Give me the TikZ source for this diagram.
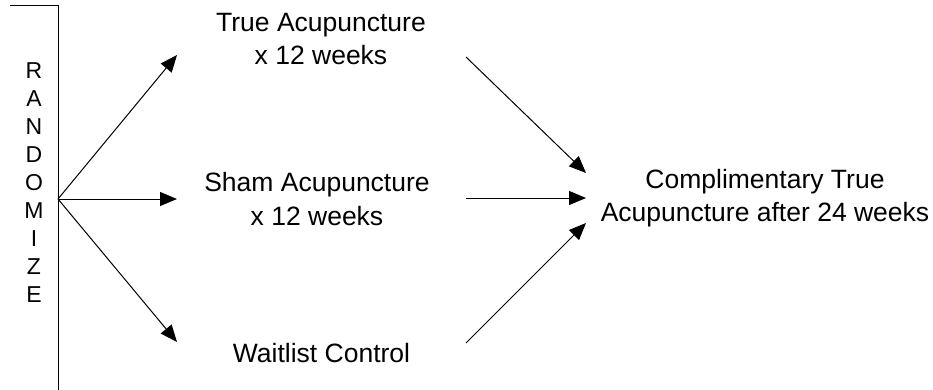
\documentclass[tikz,border=0pt]{standalone}
\usepackage{fontspec}
\setmainfont{Liberation Sans}
\usetikzlibrary{arrows.meta}

\begin{document}
\begin{tikzpicture}[x=1pt,y=-1pt,line width=1pt,
  arm/.style={-{Triangle[length=17pt,width=14pt]}},
  lbl/.style={font=\fontsize{26.5}{33.5}\selectfont,align=center,inner sep=0pt},
  vert/.style={font=\fontsize{23}{28.1}\selectfont,align=center,inner sep=0pt}]
\useasboundingbox (0,0) rectangle (933,390);
% bracket and label
\draw (10,6) -- (58,6) -- (58,390);
\node[vert] (rand) at (34,182.5) {R\\A\\N\\D\\O\\M\\I\\Z\\E};
\coordinate (hub) at (58,199);
% arms
\node[lbl] (ta) at (321,39) {True Acupuncture\\x 12 weeks};
\node[lbl] (sa) at (317,199) {Sham Acupuncture\\x 12 weeks};
\node[lbl] (wl) at (321.5,353.5) {Waitlist Control};
\node[lbl] (ct) at (765,198) {Complimentary True\\Acupuncture after 24 weeks};
\coordinate (taIn) at (177,55);
\coordinate (saIn) at (177,199);
\coordinate (wlIn) at (177,342);
\coordinate (taOut) at (466,57);
\coordinate (saOut) at (466,198);
\coordinate (wlOut) at (466,343);
\coordinate (ctTop) at (586,173);
\coordinate (ctMid) at (586,198);
\coordinate (ctBot) at (586,223);
\foreach \t in {taIn,saIn,wlIn} \draw[arm] (hub) -- (\t);
\draw[arm] (taOut) -- (ctTop);
\draw[arm] (saOut) -- (ctMid);
\draw[arm] (wlOut) -- (ctBot);
\end{tikzpicture}
\end{document}
